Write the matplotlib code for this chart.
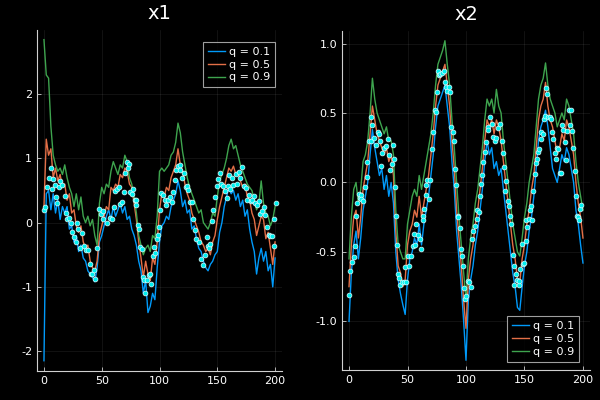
import numpy as np
import matplotlib

matplotlib.use("Agg")
import matplotlib.pyplot as plt

C_Q10, C_Q50, C_Q90, C_PTS = "#009AFA", "#E36F47", "#3EA44E", "#00F0F0"

t = np.arange(0, 201, 2)

# ---- x1 panel: quantile curves (every 2 steps) ----
x1_q10 = [-2.15, 0.45, 0.50, 0.20, 0.45, 0.15, 0.35, 0.05, 0.25, 0.15,
          0.25, -0.10, -0.05, -0.30, -0.20, -0.45, -0.35, -0.55, -0.60, -0.75,
          -0.80, -0.85, -0.92, -0.70, -0.30, -0.20, -0.05, 0.10, 0.20, 0.05,
          0.25, 0.10, 0.20, 0.30, 0.15, 0.25, 0.05, 0.10, -0.10, -0.20,
          -0.35, -0.60, -0.75, -1.10, -0.90, -1.40, -1.30, -1.10, -1.20, -0.70,
          -0.30, -0.05, 0.00, 0.10, 0.05, 0.25, 0.35, 0.45, 0.65, 0.50,
          0.25, 0.35, 0.15, 0.20, -0.10, -0.05, -0.25, -0.40, -0.45, -0.60,
          -0.70, -0.75, -0.65, -0.60, -0.50, -0.45, -0.15, 0.00, 0.25, 0.40,
          0.55, 0.45, 0.50, 0.35, 0.45, 0.25, 0.35, 0.10, 0.20, -0.10,
          -0.30, -0.45, -0.80, -0.55, -0.40, -0.60, -0.45, -0.75, -0.65, -1.00,
          -0.55]
x1_q50 = [0.25, 1.30, 1.05, 1.15, 0.70, 0.85, 0.65, 0.75, 0.55, 0.60,
          0.35, 0.45, 0.15, 0.20, -0.05, -0.15, -0.05, -0.30, -0.40, -0.35,
          -0.60, -0.70, -0.75, -0.60, -0.20, -0.05, 0.10, 0.25, 0.20, 0.55,
          0.50, 0.60, 0.55, 0.75, 0.70, 0.85, 0.80, 0.60, 0.55, 0.30,
          0.05, -0.30, -0.55, -0.85, -0.60, -0.80, -0.90, -0.55, -0.65, -0.30,
          0.20, 0.45, 0.40, 0.55, 0.50, 0.70, 0.80, 0.90, 1.15, 0.90,
          0.80, 0.60, 0.45, 0.35, 0.15, 0.05, -0.05, -0.15, -0.30, -0.35,
          -0.45, -0.40, -0.50, -0.30, -0.20, 0.05, 0.25, 0.40, 0.55, 0.70,
          0.85, 0.80, 0.88, 0.75, 0.80, 0.65, 0.55, 0.60, 0.40, 0.35,
          0.15, 0.05, -0.20, -0.05, 0.10, 0.05, -0.25, -0.15, -0.40, -0.65,
          -0.30]
x1_q90 = [2.85, 2.30, 2.25, 1.50, 1.05, 0.90, 0.80, 0.85, 0.75, 0.90,
          0.70, 0.55, 0.45, 0.25, 0.45, 0.20, 0.40, 0.10, 0.00, 0.10,
          -0.05, 0.05, -0.20, -0.35, 0.30, 0.55, 0.45, 0.60, 0.55, 0.80,
          0.95, 0.85, 0.75, 0.90, 0.85, 1.05, 0.95, 0.70, 0.60, 0.40,
          0.15, -0.20, -0.35, -0.50, -0.40, -0.35, -0.45, -0.20, -0.25, 0.10,
          0.80, 0.85, 0.80, 0.85, 0.90, 1.05, 1.10, 1.25, 1.55, 1.40,
          1.10, 0.90, 0.70, 0.55, 0.45, 0.35, 0.25, 0.15, 0.20, 0.00,
          -0.05, -0.10, 0.00, 0.15, 0.10, 0.40, 0.65, 0.75, 0.85, 1.00,
          1.20, 1.30, 1.15, 1.20, 1.05, 0.90, 0.80, 0.70, 0.60, 0.55,
          0.50, 0.35, 0.20, 0.30, 0.65, 0.30, 0.15, 0.10, -0.05, 0.05,
          0.25]

# ---- x1 panel: observations ----
x1_obs_t = [0.3, 1, 2.3, 4.2, 6, 6.8, 8, 9.3, 10.8, 11.3, 13, 14, 16, 18, 19, 20, 22, 23.5,
            24.5, 26, 27.5, 28.3, 29.5, 31.3, 32.7, 34.5, 36.5, 38, 39.6, 40.5, 41.5, 43.5,
            44, 46.3, 47.7, 49.4, 50.9, 51.5, 54.5, 57, 59, 60.6, 61.7, 63.3, 65, 66, 67.5,
            69, 70.5, 72, 73, 74, 74.5, 76, 77, 78.5, 79.5, 80, 81.3, 82.5, 83.3, 84.6,
            85.6, 86.5, 87.7, 89.5, 90.6, 92, 92.6, 94, 94.8, 96, 97.5, 98.3, 99.5, 100,
            101.7, 103, 104.5, 106, 107.5, 109, 110.5, 112, 113, 114, 116, 117.5, 118,
            119.5, 121, 122.5, 124, 125, 126, 128, 129, 131, 132, 134.6, 136, 137.5, 139,
            141, 142, 143, 143.5, 145, 146.5, 148, 149.5, 151, 152.5, 153, 155, 156.3, 158,
            159, 160.3, 161.2, 162.6, 164, 166.4, 167, 168.5, 170, 171.3, 173, 174.5, 176,
            177.3, 178.8, 180.2, 182.2, 183, 184.5, 186, 187.3, 188.8, 190, 191.6, 193,
            194.4, 195.8, 197, 198.7, 199.4, 200.5]
x1_obs_y = [0.2, 0.25, 0.55, 0.7, 0.85, 0.53, 0.68, 0.58, 0.4, 0.3, 0.55, 0.65, 0.58, 0.42,
            0.15, 0.05, 0.08, 0.0, -0.15, -0.22, -0.3, 0.0, -0.1, -0.4, -0.16, -0.37, -0.43,
            -0.43, -0.65, -0.8, -0.8, -0.73, -0.87, -0.4, 0.21, 0.14, 0.18, 0.05, 0.0, 0.07,
            0.05, 0.24, 0.5, 0.52, 0.55, 0.29, 0.32, 0.47, 0.78, 0.94, 0.85, 0.92, 0.47, 0.45,
            0.53, 0.35, 0.35, 0.27, -0.04, -0.1, -0.38, -0.41, -0.85, -0.9, -1.1, -0.9, -0.82,
            -0.8, -0.96, -0.52, -0.38, -0.47, -0.25, -0.2, -0.07, 0.2, 0.46, 0.43, 0.35, 0.27,
            0.35, 0.4, 0.32, 0.47, 0.67, 0.82, 0.88, 0.9, 0.82, 0.69, 0.77, 0.56, 0.57, 0.51,
            0.32, 0.32, 0.06, -0.12, -0.25, -0.3, -0.57, -0.66, -0.5, -0.22, -0.36, -0.4,
            -0.33, 0.02, 0.19, 0.4, 0.57, 0.68, 0.77, 0.6, 0.57, 0.49, 0.39, 0.57, 0.74, 0.53,
            0.69, 0.58, 0.76, 0.6, 0.79, 0.7, 0.86, 0.57, 0.54, 0.36, 0.43, 0.33, 0.36, 0.42,
            0.3, 0.28, 0.34, 0.14, 0.18, 0.24, 0.12, -0.06, -0.19, -0.21, -0.21, -0.37, 0.06,
            0.3]

# ---- x2 panel: quantile curves ----
x2_q10 = [-1.00, -0.65, -0.45, -0.35, -0.55, -0.40, -0.20, -0.10, 0.00, 0.20,
          0.38, 0.25, 0.15, 0.05, 0.10, -0.05, 0.05, -0.10, 0.00, -0.15,
          -0.50, -0.70, -0.80, -0.88, -0.95, -0.70, -0.55, -0.50, -0.40, -0.45,
          -0.30, -0.45, -0.30, -0.20, -0.10, 0.05, 0.20, 0.40, 0.55, 0.60,
          0.65, 0.70, 0.55, 0.40, 0.15, -0.05, -0.35, -0.55, -0.75, -1.00,
          -1.28, -0.85, -0.70, -0.60, -0.45, -0.35, -0.20, -0.05, 0.15, 0.30,
          0.20, 0.25, 0.10, 0.15, 0.05, 0.10, -0.05, -0.20, -0.35, -0.50,
          -0.65, -0.75, -0.90, -0.92, -0.75, -0.60, -0.50, -0.35, -0.25, -0.10,
          0.10, 0.30, 0.40, 0.45, 0.52, 0.40, 0.25, 0.10, 0.05, 0.00,
          0.10, 0.20, 0.15, 0.25, 0.20, 0.10, 0.00, -0.20, -0.30, -0.45,
          -0.58]
x2_q50 = [-0.75, -0.45, -0.25, -0.20, -0.40, -0.25, -0.05, 0.05, 0.15, 0.35,
          0.55, 0.45, 0.35, 0.30, 0.25, 0.20, 0.25, 0.15, 0.20, 0.05,
          -0.35, -0.60, -0.65, -0.75, -0.70, -0.45, -0.35, -0.30, -0.20, -0.25,
          -0.10, -0.25, -0.15, -0.05, 0.05, 0.20, 0.35, 0.55, 0.70, 0.75,
          0.80, 0.85, 0.70, 0.55, 0.30, 0.10, -0.20, -0.40, -0.60, -0.85,
          -1.05, -0.70, -0.55, -0.45, -0.30, -0.20, -0.05, 0.10, 0.30, 0.45,
          0.40, 0.45, 0.35, 0.45, 0.40, 0.30, 0.15, 0.00, -0.15, -0.30,
          -0.45, -0.55, -0.70, -0.72, -0.55, -0.45, -0.30, -0.20, -0.05, 0.05,
          0.25, 0.45, 0.55, 0.60, 0.72, 0.55, 0.45, 0.40, 0.30, 0.20,
          0.25, 0.35, 0.30, 0.45, 0.40, 0.30, 0.20, 0.00, -0.15, -0.25,
          -0.40]
x2_q90 = [-0.55, -0.25, -0.05, 0.00, -0.15, -0.05, 0.15, 0.20, 0.30, 0.50,
          0.75, 0.60, 0.50, 0.45, 0.40, 0.35, 0.40, 0.30, 0.30, 0.20,
          -0.20, -0.45, -0.50, -0.55, -0.55, -0.30, -0.20, -0.10, -0.05, -0.10,
          0.05, -0.05, 0.05, 0.15, 0.25, 0.35, 0.50, 0.70, 0.85, 0.90,
          0.95, 1.02, 0.85, 0.70, 0.45, 0.25, 0.00, -0.25, -0.45, -0.65,
          -0.84, -0.55, -0.40, -0.30, -0.15, -0.05, 0.10, 0.25, 0.45, 0.60,
          0.55, 0.60, 0.50, 0.67, 0.55, 0.50, 0.30, 0.15, 0.00, -0.15,
          -0.30, -0.40, -0.50, -0.53, -0.40, -0.25, -0.15, 0.00, 0.10, 0.20,
          0.40, 0.60, 0.70, 0.75, 0.86, 0.70, 0.60, 0.55, 0.50, 0.40,
          0.45, 0.50, 0.45, 0.60, 0.55, 0.45, 0.35, 0.15, 0.00, -0.10,
          -0.20]

# ---- x2 panel: observations ----
x2_obs_t = [0, 1.2, 2.6, 4.3, 5.4, 6.3, 7, 8.3, 9, 10, 10.5, 12, 14, 15, 15.7, 16.9, 18.6,
            19.2, 20, 21.6, 22.7, 24.4, 25.5, 26.3, 27.2, 28.3, 30, 31.2, 32.9, 34, 35, 36.4,
            37.3, 38.4, 39.3, 40, 41, 42, 42.8, 44, 45.7, 47, 47.6, 49, 50, 51.3, 52.7, 54.7,
            55.3, 56, 57.4, 59, 60.4, 61.8, 63, 63.4, 64, 65.6, 66, 67, 68.4, 69, 71, 72,
            73.5, 74.3, 75, 76, 77, 78, 79.5, 81, 82, 83, 84, 85.5, 86.5, 87.5, 88.5, 89.5,
            90.5, 91.4, 92.8, 93.5, 94.8, 95.6, 96.4, 97.5, 98.3, 99, 100.3, 101.3, 102.6,
            104, 105, 106, 107.4, 109, 109.5, 111, 112, 112.7, 113.5, 114.6, 116, 117, 118.4,
            119, 120.4, 122, 123.4, 125, 126, 127.4, 129, 130.4, 131.4, 132.8, 133.5, 134,
            135.6, 136.5, 137.7, 138.5, 140, 140.8, 141.4, 142.9, 143.7, 144.9, 145.7, 146.6,
            147.7, 148.6, 149.4, 151, 151.7, 152.4, 153.5, 155, 155.7, 156.6, 157.7, 158.7,
            159.5, 160.6, 161.4, 162.3, 163.7, 164.3, 165.7, 166.6, 167.4, 168.6, 169.4, 170,
            171.4, 173, 173.7, 174.6, 175.7, 176.6, 177.7, 179, 180, 180.9, 182, 183, 184.3,
            185.4, 186.6, 187.7, 188.9, 190, 190.9, 191.7, 192.9, 193.7, 194.9, 195.7, 196.9,
            197.7, 198.6]
x2_obs_y = [-0.81, -0.64, -0.57, -0.54, -0.46, -0.24, -0.15, -0.08, -0.11, -0.09, -0.12,
            -0.13, -0.03, 0.04, 0.15, 0.3, 0.3, 0.47, 0.41, 0.32, 0.27, 0.36, 0.35, 0.3, 0.12,
            0.21, 0.25, 0.26, 0.31, 0.2, 0.09, 0.13, 0.27, 0.17, -0.03, -0.24, -0.45, -0.66,
            -0.69, -0.74, -0.72, -0.72, -0.61, -0.72, -0.53, -0.6, -0.53, -0.46, -0.37, -0.45,
            -0.3, -0.38, -0.41, -0.48, -0.24, -0.27, -0.19, -0.09, -0.02, 0.02, -0.12, 0.02,
            0.24, 0.36, 0.52, 0.51, 0.65, 0.8, 0.77, 0.78, 0.79, 0.8, 0.72, 0.69, 0.66, 0.69,
            0.65, 0.4, 0.36, 0.3, 0.1, -0.02, -0.24, -0.25, -0.33, -0.48, -0.53, -0.6, -0.76,
            -0.84, -0.82, -0.71, -0.72, -0.75, -0.41, -0.35, -0.31, -0.26, -0.2, -0.21, -0.1,
            -0.01, 0.05, 0.15, 0.22, 0.29, 0.4, 0.38, 0.47, 0.42, 0.33, 0.3, 0.32, 0.39, 0.42,
            0.3, 0.21, 0.11, -0.06, 0.01, -0.13, -0.17, -0.24, -0.3, -0.52, -0.74, -0.6, -0.66,
            -0.7, -0.74, -0.71, -0.62, -0.44, -0.59, -0.58, -0.42, -0.27, -0.32, -0.26, -0.2,
            -0.17, -0.27, -0.06, 0.06, 0.14, 0.17, 0.22, 0.24, 0.31, 0.36, 0.35, 0.46, 0.48,
            0.68, 0.64, 0.47, 0.47, 0.46, 0.36, 0.31, 0.21, 0.17, 0.25, 0.24, 0.07, 0.07, 0.41,
            0.38, 0.29, 0.16, 0.37, 0.52, 0.41, 0.52, 0.37, 0.25, 0.08, -0.1, -0.24, -0.25,
            -0.27, -0.19, -0.16]


def panel(ax, q10, q50, q90, obs_t, obs_y, title, ylim, yticks, yfmt, legend_loc, anchor):
    ax.set_facecolor("black")
    ax.plot(t, q10, color=C_Q10, lw=1.0, label="q = 0.1", zorder=2)
    ax.plot(t, q50, color=C_Q50, lw=1.0, label="q = 0.5", zorder=2)
    ax.plot(t, q90, color=C_Q90, lw=1.0, label="q = 0.9", zorder=2)
    ax.scatter(obs_t, obs_y, s=12, c=C_PTS, edgecolors="#dffcff", linewidths=0.5, zorder=3)
    ax.set_xlim(-6, 206)
    ax.set_ylim(*ylim)
    ax.set_xticks([0, 50, 100, 150, 200])
    ax.set_yticks(yticks)
    ax.set_yticklabels([yfmt.format(v) for v in yticks])
    ax.grid(True, color="white", alpha=0.1, lw=0.5)
    for s in ("top", "right"):
        ax.spines[s].set_visible(False)
    for s in ("left", "bottom"):
        ax.spines[s].set_color("#d0d0d0")
        ax.spines[s].set_linewidth(0.8)
    ax.tick_params(colors="#d0d0d0", labelcolor="white", labelsize=8, direction="in", length=3,
                   width=0.6)
    ax.set_title(title, color="white", fontsize=14, pad=8)
    leg = ax.legend(loc=legend_loc, bbox_to_anchor=anchor, fontsize=8, frameon=True,
                    fancybox=False, facecolor="black", edgecolor="#c8c8c8", labelcolor="white",
                    handlelength=1.6, handletextpad=0.3, borderpad=0.45, labelspacing=0.25,
                    borderaxespad=0.0)
    leg.get_frame().set_linewidth(0.8)


fig = plt.figure(figsize=(6, 4), dpi=100, facecolor="black")
ax1 = fig.add_axes([0.0617, 0.0725, 0.4083, 0.8525])
ax2 = fig.add_axes([0.57, 0.075, 0.4133, 0.8475])
panel(ax1, x1_q10, x1_q50, x1_q90, x1_obs_t, x1_obs_y, "x1", (-2.31, 3.0),
      [-2, -1, 0, 1, 2], "{:d}", "upper right", (0.971, 0.965))
panel(ax2, x2_q10, x2_q50, x2_q90, x2_obs_t, x2_obs_y, "x2", (-1.35, 1.09),
      [-1.0, -0.5, 0.0, 0.5, 1.0], "{:.1f}", "lower right", (0.956, 0.025))
fig.savefig("out.png", facecolor="black")
